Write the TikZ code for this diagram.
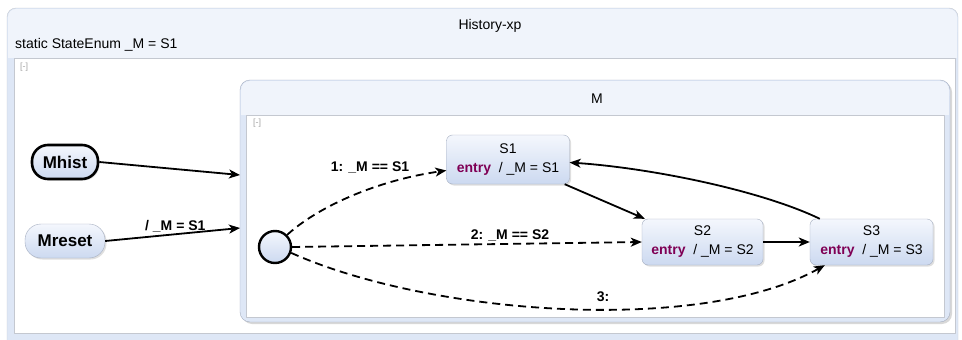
\documentclass[tikz,border=0pt]{standalone}
\usepackage{fontspec}
\setmainfont{Liberation Sans}
\usetikzlibrary{arrows.meta,shadows}
\definecolor{kw}{RGB}{127,0,85}
\definecolor{stTop}{RGB}{244,247,253}
\definecolor{stBot}{RGB}{204,217,240}
\definecolor{stLine}{RGB}{165,174,192}
\definecolor{band}{RGB}{222,231,246}
\definecolor{headfill}{RGB}{240,244,251}
\definecolor{frameline}{RGB}{196,200,208}
\tikzset{
  statebox/.style={draw=stLine, top color=stTop, bottom color=stBot, rounded corners=6pt,
    align=center, inner sep=0pt, font=\fontsize{14}{19}\selectfont,
    drop shadow={shadow xshift=1.5pt, shadow yshift=-1.5pt, opacity=0.25}},
  pill/.style={draw=black, top color=stTop, bottom color=stBot, rounded corners=16pt,
    minimum height=34pt, inner sep=0pt, font=\fontsize{17}{20}\selectfont\bfseries,
    drop shadow={shadow xshift=1.5pt, shadow yshift=-1.5pt, opacity=0.25}},
  trans/.style={-{Stealth[length=11pt,width=9pt,inset=3pt]}, line width=1.8pt},
  choice/.style={trans, dash pattern=on 8pt off 5pt},
  lbl/.style={font=\fontsize{14}{16}\selectfont\bfseries, inner sep=1pt},
  tag/.style={text=black!35, font=\fontsize{9}{10}\selectfont, inner sep=0pt}
}
\begin{document}
\begin{tikzpicture}[x=1pt, y=-1pt, line join=round]
  \useasboundingbox (0,0) rectangle (962,340);
  % outer frame of the diagram
  \draw[frameline, fill=band, rounded corners=9pt] (7,8) rectangle (958,350);
  \fill[headfill, rounded corners=8pt] (8,9) rectangle (957,40);
  \fill[headfill] (8,30) rectangle (957,57.5);
  \draw[frameline, fill=white] (14,58) rectangle (955,333);
  \node[font=\fontsize{14}{16}\selectfont] (title) at (490,26) {History-xp};
  \node[font=\fontsize{14}{16}\selectfont, anchor=west, inner sep=0pt] (decl) at (15,45) {static StateEnum \_M = S1};
  \node[tag, anchor=north west] (tagA) at (20,63) {[-]};

  % composite state M
  \draw[stLine, fill=band, rounded corners=10pt,
    drop shadow={shadow xshift=2pt, shadow yshift=-2pt, opacity=0.3}] (240,80) rectangle (950,322);
  \fill[headfill, rounded corners=9pt] (241,81) rectangle (949,105);
  \fill[headfill] (241,95) rectangle (949,115);
  \draw[frameline, fill=white] (246,115) rectangle (944,317);
  \node[font=\fontsize{14}{16}\selectfont] (mname) at (597,99) {M};
  \node[tag, anchor=north west] (tagB) at (253,119) {[-]};
  \coordinate (mIn1) at (240,175);
  \coordinate (mIn2) at (240,228);

  % entry points
  \node[pill, line width=2.6pt, minimum width=66pt] (Mhist) at (65,162) {Mhist};
  \node[pill, draw=stLine, minimum width=80pt] (Mreset) at (65,241) {Mreset};

  % initial pseudo state
  \node[circle, draw=black, line width=2.4pt, top color=stTop, bottom color=stBot,
    minimum size=32pt, inner sep=0pt] (init) at (275,247) {};

  % states
  \node[statebox, minimum width=123pt, minimum height=49pt] (S1) at (508,159.5)
    {S1\\{\color{kw}\bfseries entry}\ \ / \_M = S1};
  \node[statebox, minimum width=121pt, minimum height=46pt] (S2) at (702.5,242)
    {S2\\{\color{kw}\bfseries entry}\ \ / \_M = S2};
  \node[statebox, minimum width=123pt, minimum height=46pt] (S3) at (871.5,242)
    {S3\\{\color{kw}\bfseries entry}\ \ / \_M = S3};

  % transitions
  \draw[trans] (Mhist.east) -- (mIn1);
  \draw[trans] (Mreset.east) -- node[lbl, above, pos=0.52] {/ \_M = S1} (mIn2);
  \draw[choice] (init.45) .. controls (320,205) and (380,180) .. ([yshift=-11pt]S1.west);
  \node[lbl] (g1) at (370,167) {1: \_M == S1};
  \draw[choice] (init.east) -- (S2.west);
  \node[lbl] (g2) at (510,235) {2: \_M == S2};
  \draw[choice] (init.-20) .. controls (430,315) and (700,335) .. ([xshift=15pt]S3.south west);
  \node[lbl] (g3) at (603,297) {3:};
  \draw[trans] ([xshift=-5pt]S1.south east) -- ([xshift=3pt]S2.north west);
  \draw[trans] (S2.east) -- (S3.west);
  \draw[trans] ([xshift=10pt]S3.north west) .. controls (760,190) and (650,168) .. ([yshift=-3pt]S1.east);
\end{tikzpicture}
\end{document}
